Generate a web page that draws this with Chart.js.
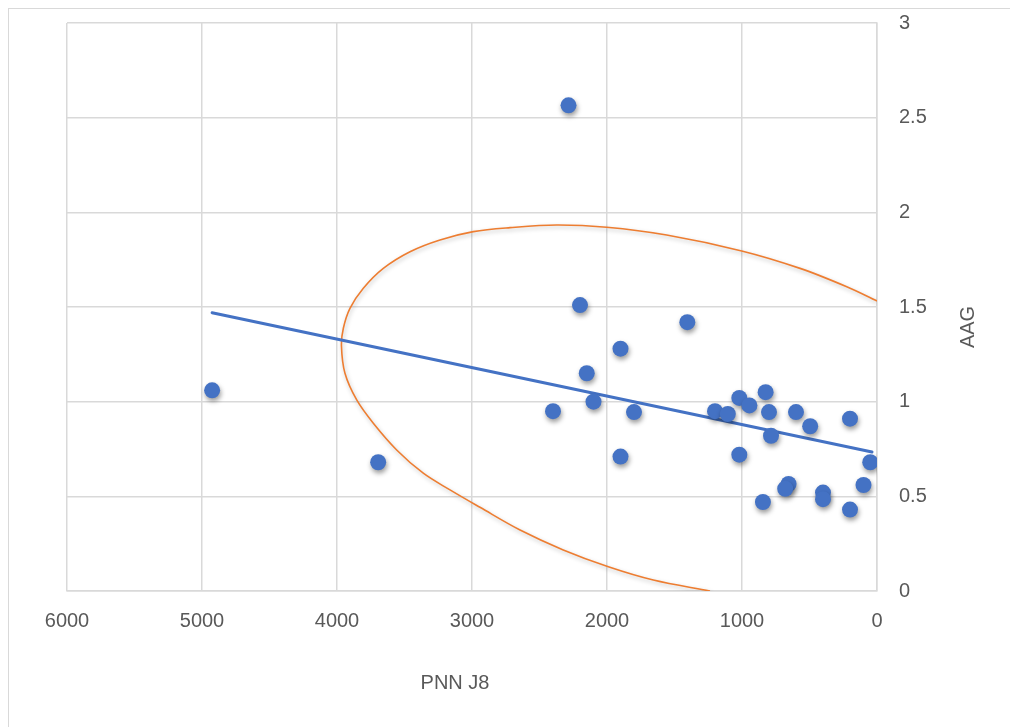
<!DOCTYPE html>
<html>
<head>
    <title>AAG vs PNN J8</title>
    <script src="https://cdn.jsdelivr.net/npm/chart.js"></script>
    <style>
        body {
            margin: 0;
            background: #fff;
        }
        .frame {
            position: absolute;
            left: 8px;
            top: 8px;
            width: 1010px;
            height: 727px;
            border-top: 1px solid #d9d9d9;
            border-left: 1px solid #d9d9d9;
        }
        .chart-box {
            position: relative;
            width: 1001px;
            height: 718px;
        }
    </style>
</head>
<body>
    <div class="frame">
        <div class="chart-box">
            <canvas id="scatterChart"></canvas>
        </div>
    </div>

    <script>
        // measured points (PNN J8 -> AAG)
        const pnnValues = [2285, 4925, 3695, 2200, 1405, 1900, 2150, 2100, 2400, 1800,
                           1900, 1200, 1105, 1020, 945, 825, 800, 785, 1020, 600,
                           495, 200, 50, 100, 655, 680, 845, 400, 400, 200];
        const aagValues = [2.565, 1.06, 0.68, 1.51, 1.42, 1.28, 1.15, 1.0, 0.95, 0.945,
                           0.71, 0.95, 0.935, 1.02, 0.98, 1.05, 0.945, 0.82, 0.72, 0.945,
                           0.87, 0.91, 0.68, 0.56, 0.565, 0.54, 0.47, 0.52, 0.485, 0.43];

        // linear trendline end points
        const trendX = [4925, 37];
        const trendY = [1.47, 0.734];

        // hand drawn orange oval
        const ovalX = [0, 224, 570, 1002, 1558, 2002, 2373, 2718, 2990, 3237,
                       3459, 3657, 3805, 3904, 3953, 3967, 3941, 3854, 3731, 3558,
                       3361, 3163, 2941, 2644, 2324, 1990, 1657, 1237];
        const ovalY = [1.532, 1.607, 1.704, 1.796, 1.880, 1.921, 1.933, 1.919, 1.898, 1.854,
                       1.792, 1.704, 1.599, 1.493, 1.388, 1.294, 1.150, 1.009, 0.886, 0.745,
                       0.622, 0.534, 0.442, 0.322, 0.217, 0.128, 0.058, 0];

        const xTicks = [6000, 5000, 4000, 3000, 2000, 1000, 0];
        const yTicks = [0, 0.5, 1, 1.5, 2, 2.5, 3];

        const xTitle = 'PNN J8';
        const yTitle = 'AAG';

        const toPoints = (xs, ys) => xs.map((x, i) => ({ x: x, y: ys[i] }));

        const textColor = '#595959';
        const gridColor = '#d9d9d9';
        const fontFamily = '"Liberation Sans", Arial, sans-serif';

        // soft drop shadow like the office chart effect
        const shadowPlugin = {
            id: 'shadow',
            beforeDatasetDraw(chart, args) {
                const ctx = chart.ctx;
                ctx.save();
                if (args.index === 0) {
                    ctx.shadowColor = 'rgba(0,0,0,0.4)';
                    ctx.shadowBlur = 5;
                    ctx.shadowOffsetX = 1;
                    ctx.shadowOffsetY = 3;
                } else if (args.index === 2) {
                    ctx.shadowColor = 'rgba(0,0,0,0.25)';
                    ctx.shadowBlur = 4;
                    ctx.shadowOffsetX = 1;
                    ctx.shadowOffsetY = 2;
                }
            },
            afterDatasetDraw(chart) {
                chart.ctx.restore();
            }
        };

        // axis titles (y title reads bottom to top)
        const titlePlugin = {
            id: 'axisTitles',
            afterDraw(chart) {
                const ctx = chart.ctx;
                const area = chart.chartArea;
                ctx.save();
                ctx.fillStyle = textColor;
                ctx.font = '20px ' + fontFamily;
                ctx.textAlign = 'center';
                ctx.textBaseline = 'middle';
                ctx.fillText(xTitle, area.left + 388, area.bottom + 92);
                ctx.translate(area.right + 91, area.top + 304);
                ctx.rotate(-Math.PI / 2);
                ctx.fillText(yTitle, 0, 0);
                ctx.restore();
            }
        };

        const scatterChart = new Chart(document.getElementById('scatterChart').getContext('2d'), {
            type: 'scatter',
            data: {
                datasets: [{
                    label: 'AAG',
                    data: toPoints(pnnValues, aagValues),
                    backgroundColor: '#4472c4',
                    borderColor: '#4472c4',
                    pointRadius: 8,
                    pointHoverRadius: 8,
                    borderWidth: 0
                }, {
                    label: 'Trend',
                    data: toPoints(trendX, trendY),
                    showLine: true,
                    borderColor: '#4472c4',
                    borderWidth: 3,
                    pointRadius: 0,
                    borderCapStyle: 'round'
                }, {
                    label: 'Oval',
                    data: toPoints(ovalX, ovalY),
                    showLine: true,
                    borderColor: '#ed7d31',
                    borderWidth: 1.6,
                    pointRadius: 0,
                    tension: 0.35,
                    clip: 0
                }]
            },
            options: {
                responsive: true,
                maintainAspectRatio: false,
                animation: false,
                layout: {
                    padding: { left: 58, top: 14, right: 0, bottom: 0 }
                },
                plugins: {
                    legend: { display: false },
                    tooltip: { enabled: false }
                },
                scales: {
                    x: {
                        type: 'linear',
                        reverse: true,
                        min: 0,
                        max: 6000,
                        afterBuildTicks: scale => {
                            scale.ticks = xTicks.map(v => ({ value: v }));
                        },
                        afterFit: scale => { scale.height = 136; },
                        grid: { color: gridColor, lineWidth: 1.5, drawTicks: false },
                        border: { color: gridColor, width: 1.5 },
                        ticks: {
                            color: textColor,
                            padding: 18,
                            font: { family: fontFamily, size: 20 },
                            callback: v => String(v)
                        }
                    },
                    y: {
                        type: 'linear',
                        position: 'right',
                        min: 0,
                        max: 3,
                        afterBuildTicks: scale => {
                            scale.ticks = yTicks.map(v => ({ value: v }));
                        },
                        afterFit: scale => {
                            scale.width = 133;
                            scale.paddingTop = 0;
                            scale.paddingBottom = 0;
                        },
                        grid: { color: gridColor, lineWidth: 1.5, drawTicks: false },
                        border: { color: gridColor, width: 1.5 },
                        ticks: {
                            color: textColor,
                            padding: 22,
                            font: { family: fontFamily, size: 20 },
                            callback: v => String(v)
                        }
                    }
                }
            },
            plugins: [shadowPlugin, titlePlugin]
        });
    </script>
</body>
</html>
